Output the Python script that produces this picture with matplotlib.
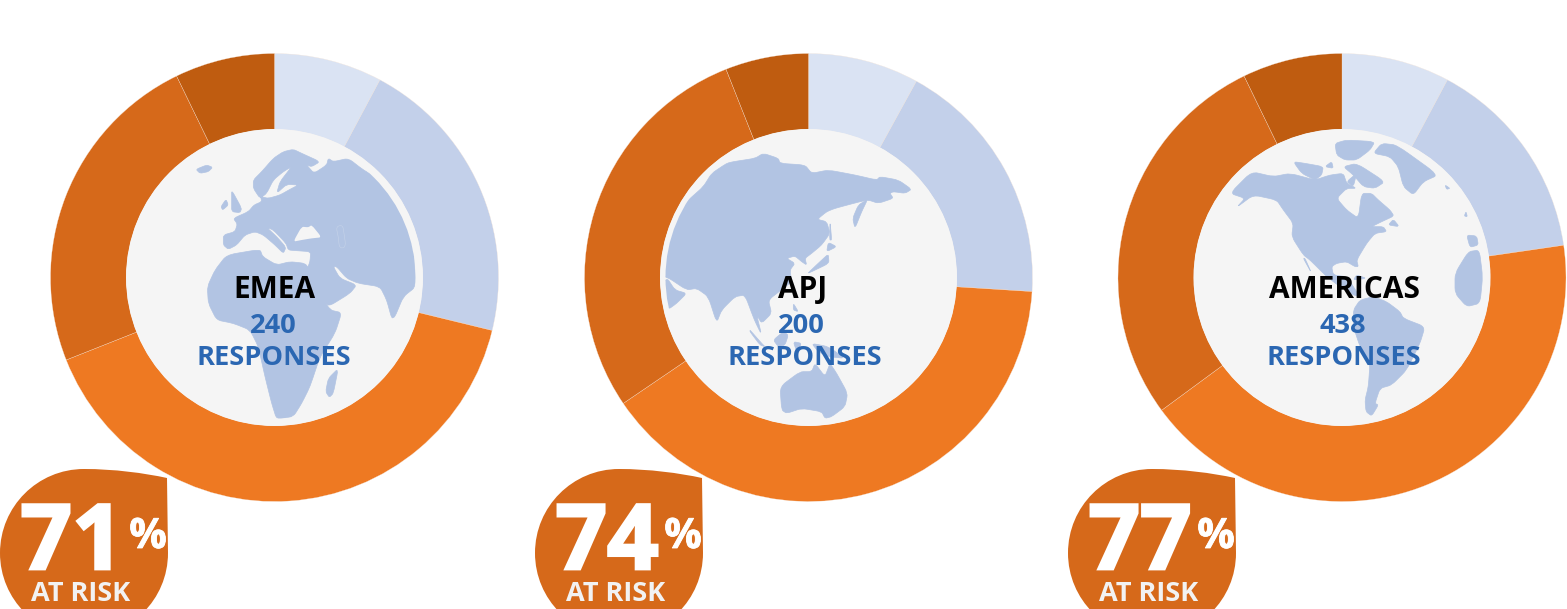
import matplotlib
matplotlib.use("Agg")
import matplotlib.pyplot as plt
import matplotlib.patheffects as pe
from matplotlib.patches import Circle, PathPatch
from matplotlib.path import Path

plt.rcParams['font.family'] = ['Open Sans', 'DejaVu Sans']

# survey shares, clockwise from 12 o'clock
regions = ['EMEA', 'APJ', 'AMERICAS']
responses = [240, 200, 438]
at_risk = [71, 74, 77]
emea_vals = [7.8, 21.0, 40.2, 23.8, 7.2]
apj_vals = [8.0, 18.0, 39.5, 28.5, 6.0]
americas_vals = [7.8, 14.9, 42.2, 27.9, 7.2]
colors = ['#dae3f3', '#c3d0ea', '#ee7922', '#d6691a', '#bf5c10']

MAP = '#b2c4e3'
BG = '#f5f5f5'
BLUE = '#2b67b2'
H = 609

# map outlines, pixels inside a 3x crop of each globe
emea_land = [
    [(310,315),(345,305),(352,282),(340,265),(385,245),(402,225),(425,215),(422,200),(445,205),(480,195),(510,178),(535,165),(500,163),(470,190),(480,155),(515,110),(490,125),(460,150),(440,190),(420,205),(400,175),(400,150),(425,125),(460,85),(490,65),(520,58),(545,70),(600,95),(575,110),(560,105),(582,130),(620,105),(625,85),(640,95),(685,85),(730,120),(800,160),(850,230),(880,340),(888,470),(850,500),(825,560),(815,565),(800,510),(780,470),(715,460),(680,445),(650,410),(640,410),(660,445),(710,465),(690,490),(625,530),(605,500),(580,450),(560,420),(570,395),(572,365),(530,362),(505,360),(498,340),(460,300),(440,292),(470,320),(498,352),(490,370),(465,345),(430,315),(405,305),(375,315),(350,345),(325,358),(310,345)],
    [(320,375),(420,358),(428,380),(470,405),(510,395),(555,400),(570,420),(600,490),(630,540),(665,548),(645,610),(600,680),(570,770),(545,820),(520,860),(470,868),(455,820),(435,740),(415,650),(390,600),(340,580),(290,570),(265,520),(262,470),(285,420)],
    [(335,180),(365,235),(360,248),(335,245),(335,210)],
    [(318,208),(325,225),(308,240),(303,230)],
    [(228,118),(260,105),(278,112),(265,125),(240,130)],
    [(655,715),(640,790),(628,802),(617,785),(625,745)],
]
emea_sea = [
    [(520,335),(545,290),(565,292),(575,285),(605,322),(575,325),(545,330)],
]
emea_lake = [(648,290),(668,285),(672,310),(678,352),(658,355),(655,320)]
apj_land = [
    [(0,440),(0,300),(100,210),(145,170),(170,130),(215,100),(235,95),(300,85),(325,70),(370,85),(375,100),(450,105),(470,130),(520,120),(600,135),(665,150),(675,140),(730,150),(770,178),(750,190),(715,185),(705,190),(715,205),(670,220),(640,210),(615,215),(540,235),(515,245),(487,268),(515,275),(525,310),(500,345),(470,370),(450,385),(455,405),(440,395),(420,378),(395,385),(420,400),(405,420),(410,455),(385,475),(340,510),(350,550),(320,580),(305,555),(320,615),(298,570),(270,495),(240,500),(200,540),(185,578),(160,500),(125,475),(95,480),(35,440)],
    [(35,442),(60,480),(95,490),(65,520),(40,538),(0,500)],
    [(638,208),(620,245),(600,295),(593,265),(610,225)],
    [(525,272),(530,330),(524,330)],
    [(520,337),(545,350),(515,365)],
    [(520,372),(522,400),(470,425),(458,430),(495,395)],
    [(285,600),(320,640),(330,650),(315,645),(285,605)],
    [(355,630),(385,605),(400,615),(390,645),(370,650)],
    [(415,520),(430,545),(415,540)],
    [(415,635),(440,640),(425,665)],
    [(470,640),(520,650),(570,685),(520,680),(490,665)],
    [(375,770),(435,725),(470,725),(480,700),(510,740),(525,700),(545,730),(578,790),(570,830),(530,860),(510,865),(500,845),(440,835),(395,850),(380,840)],
]
americas_land = [
    [(120,190),(185,125),(250,140),(300,130),(375,150),(420,135),(460,130),(470,160),(500,175),(470,175),(440,205),(470,240),(505,265),(515,190),(545,190),(565,210),(600,240),(612,258),(575,275),(545,290),(580,290),(590,305),(555,310),(530,340),(500,390),(505,410),(495,410),(470,395),(440,400),(425,410),(430,435),(470,440),(510,500),(490,495),(450,470),(410,440),(360,390),(340,375),(305,320),(310,280),(280,240),(260,210),(190,195),(140,232),(165,205)],
    [(345,385),(365,430),(340,385)],
    [(510,510),(550,500),(590,515),(630,545),(640,565),(705,590),(690,640),(650,720),(605,765),(570,775),(555,820),(565,825),(545,858),(528,845),(525,810),(535,770),(540,700),(510,650),(490,590),(490,540)],
    [(500,435),(530,445),(490,450)],
    [(550,70),(575,40),(620,45),(745,135),(700,155),(670,195),(640,170),(625,110),(600,80)],
    [(310,95),(345,100),(400,110),(395,135),(375,150),(335,130)],
    [(405,110),(425,95),(430,115)],
    [(460,110),(500,100),(585,155),(555,175),(520,170),(490,135)],
    [(470,155),(500,130),(490,170)],
    [(435,40),(470,30),(555,35),(540,60),(500,90),(465,90),(440,75)],
    [(610,268),(628,290),(595,285)],
    [(765,165),(780,175),(770,178)],
    [(828,245),(832,260),(823,258)],
    [(830,315),(860,318),(865,345),(840,352)],
    [(835,365),(868,360),(878,440),(870,520),(830,530),(795,490),(795,430)],
]

# per panel layout: donut centre, crop origin, globe radius, label x, badge left
panels = [
    dict(vals=emea_vals, cx=274.5, org=(120,130), clip=141, land=emea_land, sea=emea_sea, xs=(274,273,273.5), bx=0, rx=81),
    dict(vals=apj_vals, cx=808.5, org=(655,130), clip=143, land=apj_land, sea=[], xs=(803,801,804.5), bx=535, rx=616),
    dict(vals=americas_vals, cx=1342, org=(1190,130), clip=148, land=americas_land, sea=[], xs=(1344.5,1343,1344), bx=1068, rx=1149),
]


def soft_path(xy, t=0.28):
    # closed outline with only the corners rounded off
    n = len(xy)
    lerp = lambda a, b, f: (a[0] + (b[0] - a[0]) * f, a[1] + (b[1] - a[1]) * f)
    verts, codes = [], []
    for j in range(n):
        a, b, c = xy[j - 1], xy[j], xy[(j + 1) % n]
        verts += [lerp(b, a, t), b, lerp(b, c, t)]
        codes += [Path.LINETO if j else Path.MOVETO, Path.CURVE3, Path.CURVE3]
    verts.append(verts[0])
    codes.append(Path.LINETO)
    return Path(verts, codes)


fig = plt.figure(figsize=(15.67, 6.09), dpi=100)
ax = fig.add_axes([0, 0, 1, 1])
cy = H - 277.5

for i, p in enumerate(panels):
    ax.pie(p['vals'], colors=colors, startangle=90, counterclock=False,
           center=(p['cx'], cy), radius=224, frame=True,
           wedgeprops=dict(width=76, linewidth=0.2, edgecolor='#f6e4d6'))
    ax.add_patch(Circle((p['cx'], cy), 148.5, fc=BG, ec='none', zorder=3))

    ox, oy = p['org']
    clip = Circle((p['cx'], cy), p['clip'], transform=ax.transData)
    for pts in p['land']:
        xy = [(ox + x / 3, H - (oy + y / 3)) for x, y in pts]
        land = PathPatch(soft_path(xy), fc=MAP, ec=MAP, lw=0.5, zorder=4)
        ax.add_patch(land)
        land.set_clip_path(clip)
    for pts in p['sea']:
        xy = [(ox + x / 3, H - (oy + y / 3)) for x, y in pts]
        ax.add_patch(PathPatch(soft_path(xy), fc=BG, ec='none', zorder=4.5))
    if i == 0:
        xy = [(ox + x / 3, H - (oy + y / 3)) for x, y in emea_lake]
        ax.add_patch(PathPatch(soft_path(xy, 0.45), fc=MAP, ec='#c6d3e9', lw=0.4, zorder=4.5))

    ax.text(p['xs'][0], H - 298, regions[i], ha='center', va='baseline', fontsize=21.5,
            fontweight='bold', color='black', zorder=6)
    ax.text(p['xs'][1], H - 333, str(responses[i]), ha='center', va='baseline', fontsize=19.6,
            fontweight='bold', color=BLUE, zorder=6)
    ax.text(p['xs'][2], H - 365, 'RESPONSES', ha='center', va='baseline', fontsize=19.6,
            fontweight='bold', color=BLUE, zorder=6)

    # badge: circle with one pointed corner at the top right
    bx = p['bx']
    r = 84
    k = 0.5523 * r
    bc = H - 553
    verts = [(bx + r, bc + r),
             (bx + r + 30, bc + r), (bx + r + 60, bc + r - 4), (bx + 167, H - 478),
             (bx + 168, bc),
             (bx + r + r, bc - k), (bx + r + k, bc - r), (bx + r, bc - r),
             (bx + r - k, bc - r), (bx, bc - k), (bx, bc),
             (bx, bc + k), (bx + r - k, bc + r), (bx + r, bc + r)]
    codes = [Path.MOVETO, Path.CURVE4, Path.CURVE4, Path.CURVE4, Path.LINETO] + [Path.CURVE4] * 9
    ax.add_patch(PathPatch(Path(verts, codes), fc='#d6691a', ec='none', zorder=5))

    t = ax.text(bx + 72, H - 569, str(at_risk[i]), ha='center', va='baseline', fontsize=65,
                fontweight='bold', color='white', zorder=6)
    t.set_path_effects([pe.Stroke(linewidth=2, foreground='white', joinstyle='miter'), pe.Normal()])
    t = ax.text(bx + 148, H - 548, '%', ha='center', va='baseline', fontsize=30,
                fontweight='bold', color='white', zorder=6)
    t.set_path_effects([pe.withStroke(linewidth=0.6, foreground='white')])
    ax.text(p['rx'], H - 601, 'AT RISK', ha='center', va='baseline', fontsize=19.5,
            fontweight='bold', color='#f2f2f2', zorder=6)

ax.set_xlim(0, 1567)
ax.set_ylim(0, H)
ax.set_aspect('equal')
ax.axis('off')
fig.savefig('out.png', dpi=100)
